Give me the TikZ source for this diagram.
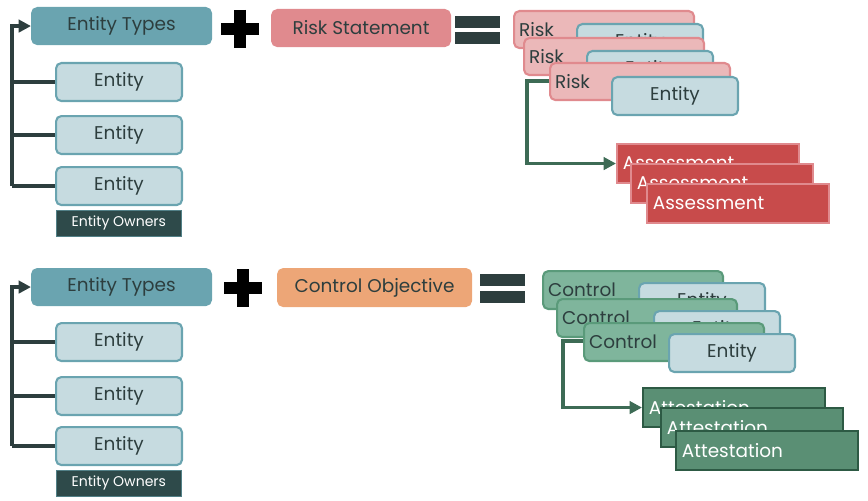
\documentclass[tikz,border=0pt]{standalone}
\usepackage{fontspec}
\setmainfont{Poppins}
\usetikzlibrary{arrows.meta,positioning}

\definecolor{typeblue}{HTML}{6AA4B0}
\definecolor{entfill}{HTML}{C6DBE0}
\definecolor{ownerdark}{HTML}{2E4A4A}
\definecolor{riskpink}{HTML}{E08A8E}
\definecolor{risklight}{HTML}{EBB8B9}
\definecolor{assessred}{HTML}{C84B4B}
\definecolor{ctrlorange}{HTML}{EDA677}
\definecolor{ctrlgreen}{HTML}{7FB59C}
\definecolor{ctrlborder}{HTML}{5A9A7A}
\definecolor{attgreen}{HTML}{5A8F74}
\definecolor{attborder}{HTML}{2D5A44}
\definecolor{linkdark}{HTML}{2D3E3E}
\definecolor{linkgreen}{HTML}{3D6B55}

\begin{document}
\begin{tikzpicture}[x=0.02cm, y=-0.02cm, font=\fontsize{10.5}{12}\selectfont]

    \tikzstyle{box} = [rectangle, rounded corners=3pt, anchor=north west, inner sep=0pt, line width=1.2pt]
    \tikzstyle{types} = [box, fill=typeblue, draw=typeblue, text=linkdark, minimum width=3.58cm, minimum height=0.72cm]
    \tikzstyle{entity} = [box, fill=entfill, draw=typeblue, text=linkdark, minimum width=2.52cm, minimum height=0.76cm]
    \tikzstyle{owners} = [rectangle, anchor=north west, fill=ownerdark, draw=typeblue!60!ownerdark, text=white, minimum width=2.5cm, minimum height=0.5cm, font=\fontsize{8}{9}\selectfont]
    \tikzstyle{risk} = [box, fill=risklight, draw=riskpink, text=linkdark, minimum width=3.6cm, minimum height=0.74cm, text width=3.4cm, align=left]
    \tikzstyle{control} = [box, fill=ctrlgreen, draw=ctrlborder, text=linkdark, minimum width=3.6cm, minimum height=0.76cm, text width=3.4cm, align=left]
    \tikzstyle{assess} = [rectangle, anchor=north west, fill=assessred, draw=riskpink, line width=1.2pt, text=white, minimum width=3.62cm, minimum height=0.78cm, text width=3.4cm, align=left]
    \tikzstyle{attest} = [rectangle, anchor=north west, fill=attgreen, draw=attborder, line width=1.2pt, text=white, minimum width=3.62cm, minimum height=0.78cm, text width=3.4cm, align=left]
    \tikzstyle{tree} = [draw=linkdark, line width=2.2pt]
    \tikzstyle{flow} = [draw=linkgreen, line width=2pt, -{Triangle[length=7pt, width=7pt]}]
    \tikzstyle{bar} = [line width=7pt]

    \useasboundingbox (0,0) rectangle (868,500);

    % risk row
    \node (types1)  [types] at (31,7)   {Entity Types};
    \node (stmt)    [box, fill=riskpink, draw=riskpink, text=linkdark, minimum width=3.56cm, minimum height=0.72cm] at (271,9) {Risk Statement};
    \node (ent1a)   [entity] at (55,62)  {Entity};
    \node (ent1b)   [entity] at (55,115) {Entity};
    \node (ent1c)   [entity] at (55,166) {Entity};
    \node (own1)    [owners] at (56,210) {Entity Owners};

    \coordinate (root1) at (12,0);
    \draw[tree, -{Triangle[length=7pt, width=7pt]}] (root1 |- ent1c.west) |- (types1.west);
    \draw[tree] (root1 |- ent1a.west) -- (ent1a.west);
    \draw[tree] (root1 |- ent1b.west) -- (ent1b.west);
    \draw[tree] (root1 |- ent1c.west) -- (ent1c.west);

    \draw[bar] (240,10) -- (240,48);
    \draw[bar] (221,29) -- (259,29);
    \draw[bar, linkdark] (455,22) -- (500,22);
    \draw[bar, linkdark] (455,38) -- (500,38);

    \node (riskA)   [risk] at (513,10)   {Risk};
    \node (rentA)   [entity] at (576,23) {Entity};
    \node (riskB)   [risk] at (523,37)   {Risk};
    \node (rentB)   [entity] at (586,50) {Entity};
    \node (riskC)   [risk] at (549,62)   {Risk};
    \node (rentC)   [entity] at (611,76) {Entity};

    \node (assA)    [assess] at (616,143) {Assessment};
    \node (assB)    [assess] at (630,163) {Assessment};
    \node (assC)    [assess] at (646,183) {Assessment};
    \coordinate (turn1) at (527,81);
    \draw[flow] (riskC.west |- turn1) -- (turn1) |- (assA.west);

    % control row
    \node (types2)  [types] at (31,268)  {Entity Types};
    \node (obj)     [box, fill=ctrlorange, draw=ctrlorange, text=linkdark, minimum width=3.86cm, minimum height=0.74cm] at (277,268) {Control Objective};
    \node (ent2a)   [entity] at (55,322) {Entity};
    \node (ent2b)   [entity] at (55,376) {Entity};
    \node (ent2c)   [entity] at (55,426) {Entity};
    \node (own2)    [owners] at (56,470) {Entity Owners};

    \coordinate (root2) at (12,0);
    \draw[tree, -{Triangle[length=7pt, width=7pt]}] (root2 |- ent2c.west) |- (types2.west);
    \draw[tree] (root2 |- ent2a.west) -- (ent2a.west);
    \draw[tree] (root2 |- ent2b.west) -- (ent2b.west);
    \draw[tree] (root2 |- ent2c.west) -- (ent2c.west);

    \draw[bar] (243,269) -- (243,307);
    \draw[bar] (224,288) -- (262,288);
    \draw[bar, linkdark] (480,280) -- (525,280);
    \draw[bar, linkdark] (480,297) -- (525,297);

    \node (ctrlA)   [control] at (542,270) {Control};
    \node (centA)   [entity] at (638,282)  {Entity};
    \node (ctrlB)   [control] at (556,298) {Control};
    \node (centB)   [entity] at (653,310)  {Entity};
    \node (ctrlC)   [control] at (583,322) {Control};
    \node (centC)   [entity] at (668,333)  {Entity};

    \node (attA)    [attest] at (642,387) {Attestation};
    \node (attB)    [attest] at (660,407) {Attestation};
    \node (attC)    [attest] at (675,430) {Attestation};
    \coordinate (turn2) at (563,341);
    \draw[flow] (ctrlC.west |- turn2) -- (turn2) |- (attA.west);
\end{tikzpicture}
\end{document}
